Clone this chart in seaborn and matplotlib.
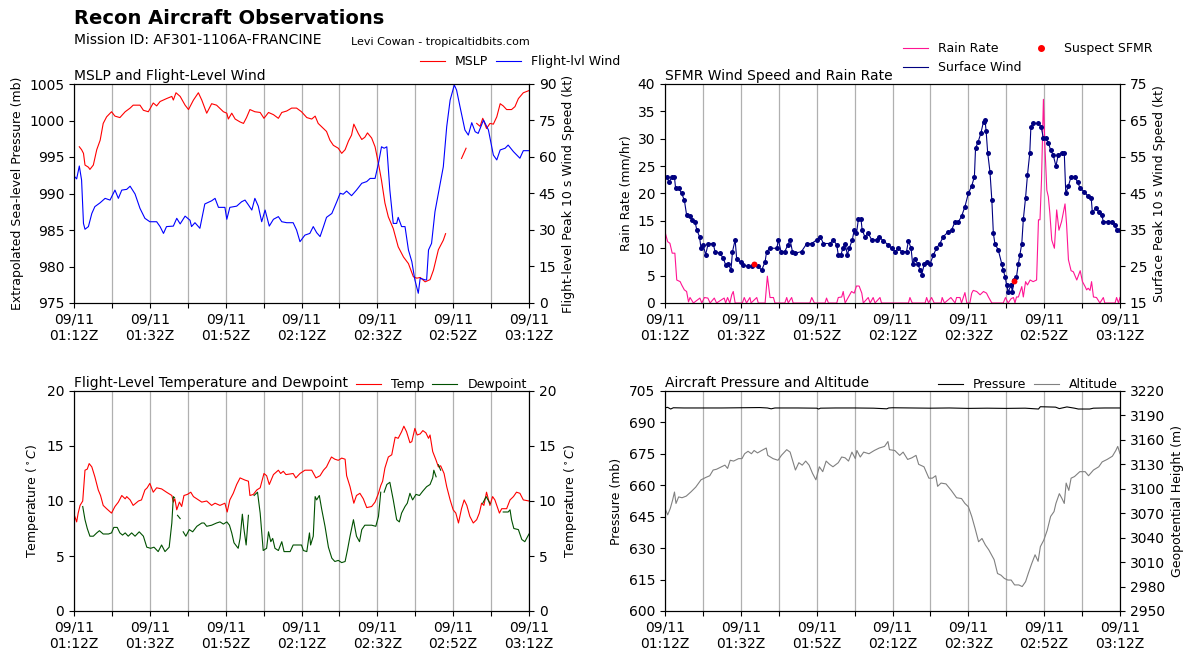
import numpy as np
import pandas as pd
import seaborn as sns
import matplotlib.pyplot as plt
from matplotlib.lines import Line2D

nan = np.nan
base = pd.Timestamp('2024-09-11 01:12')

# Flight-level wind (kt), minutes after 01:12Z
wind_min = [0.0, 0.7, 1.4, 2.0, 2.5, 2.9, 3.8, 4.7, 5.5, 6.9, 8.2, 9.5, 10.8, 11.7, 12.6, 13.9, 14.8, 16.1, 17.4, 18.7,
            20.0, 21.8, 22.7, 23.6, 24.4, 26.2, 27.1, 28.0, 29.3, 30.6, 31.0, 31.9, 33.2, 34.5, 36.3, 37.2, 38.1, 39.8, 40.3, 41.1,
            42.9, 44.2, 45.1, 46.0, 46.9, 47.7, 48.6, 49.5, 50.4, 51.5, 52.6, 53.9, 54.8, 56.1, 57.8, 58.7, 59.6, 60.9, 62.2, 63.1,
            64.0, 64.9, 65.8, 66.6, 68.0, 69.3, 70.2, 71.0, 71.9, 73.2, 74.5, 75.9, 77.2, 78.1, 79.4, 80.3, 81.1, 81.8, 82.5, 83.3,
            84.2, 85.1, 85.5, 86.4, 87.3, 88.2, 89.1, 89.9, 90.8, 91.3, 92.6, 93.0, 93.5, 94.3, 95.2, 96.1, 97.4, 98.3, 99.2, 100.3,
            100.9, 101.8, 103.1, 104.0, 104.9, 105.8, 106.6, 108.0, 109.3, 110.6, 111.5, 112.4, 113.7, 114.5, 115.9, 117.6, 118.5, 120.0]
wind_kt = [52.2, 51, 56.3, 50.5, 32.7, 30.3, 31.4, 36.8, 39.6, 41.2, 43, 42.3, 46.4, 43, 46.4, 46.7, 48, 44.8, 38.9, 34.8,
           33.4, 33.4, 31.4, 28.6, 31.4, 31.6, 34.8, 32.5, 35.7, 34, 31.4, 33, 30.7, 40.7, 42, 43, 39.3, 39.3, 34.4, 39.3,
           39.8, 41.6, 42.3, 40.3, 38.2, 43, 39.8, 33.4, 38.2, 31.6, 34.4, 35.5, 33.4, 33, 33, 30, 25.2, 27.9, 28.6, 31.4,
           28.9, 27.3, 31.4, 35.2, 36.8, 41.6, 45.1, 44.7, 46, 44.1, 46.4, 49.2, 49.9, 51.2, 51.2, 57.4, 64.2, 63.6, 64.2, 46.4,
           32.7, 32.7, 35.2, 31.4, 31.4, 21.8, 17, 9.5, 4, 10.2, 9.5, 9.5, 21.8, 24.5, 37.5, 45.1, 56, 72.5, 83.4, 89.6,
           87.5, 80.7, 71.1, 69, 74.1, 70.4, 69.7, 75.2, 71.1, 60.8, 58.8, 62.9, 63.6, 64.9, 62.2, 59.5, 62.6, 62.6]

# Extrapolated MSLP (mb)
mslp_min = [1.4, 2.0, 2.5, 2.9, 3.8, 4.2, 5.1, 6.0, 6.9, 7.7, 8.6, 9.9, 10.8, 12.1, 13.5, 14.8, 15.6, 17.4, 18.3, 19.6,
            20.9, 21.8, 22.7, 24.4, 25.8, 26.2, 26.9, 28.0, 29.3, 30.2, 31.5, 32.8, 33.7, 35.0, 36.3, 37.6, 39.4, 40.3, 40.7, 41.6,
            42.5, 43.8, 44.7, 45.5, 46.4, 47.7, 49.1, 50.1, 51.3, 52.6, 53.9, 54.8, 56.1, 57.4, 58.7, 60.0, 61.4, 62.7, 63.6, 64.4,
            65.8, 66.6, 67.5, 68.4, 69.7, 70.6, 71.5, 72.4, 73.2, 73.8, 75.0, 75.9, 76.7, 77.4, 78.5, 79.4, 80.3, 81.1, 82.0, 82.9,
            84.2, 85.5, 86.9, 88.2, 89.5, 90.4, 91.3, 92.6, 93.9, 94.8, 96.1, 97.4, 98.0, 98.5, 102.2, 103.4, 104.0, 106.2, 107.1, 107.8,
            108.8, 109.7, 110.6, 111.5, 112.4, 113.2, 114.1, 115.4, 116.3, 117.2, 118.5, 120.0]
mslp_mb = [996.4, 996.0, 995.5, 993.9, 993.6, 993.3, 993.9, 996.0, 997.3, 999.6, 1000.5, 1001.2, 1000.6, 1000.4, 1001.2, 1001.7, 1002.1, 1002.1, 1001.4, 1001.2,
           1002.4, 1002.0, 1002.6, 1003.0, 1003.3, 1002.8, 1003.8, 1003.3, 1002.1, 1001.5, 1002.8, 1003.8, 1002.8, 1001.0, 1002.3, 1002.1, 1001.2, 1001.0, 1000.2, 1001.0,
           1000.2, 999.8, 999.6, 1000.4, 1001.5, 1001.2, 1001.1, 1000.3, 1001.1, 1000.8, 1000.3, 1001.1, 1001.3, 1001.7, 1001.7, 1001.2, 1000.4, 1000.2, 1000.6, 999.6,
           998.9, 998.5, 997.3, 996.6, 996.2, 995.5, 996.0, 997.2, 998.0, 999.5, 998.2, 997.4, 997.7, 998.3, 997.6, 996.4, 994.1, 991.8, 988.7, 986.8,
           985.2, 982.7, 981.3, 980.4, 978.6, 978.4, 978.5, 977.9, 978.2, 979.5, 982.3, 983.6, 984.5, nan, 994.8, 996.2, nan, 999.6, 999.2, 1000.3,
           998.9, 999.6, 999.5, 1000.5, 1002.3, 1002.0, 1001.5, 1001.5, 1001.9, 1003.0, 1003.8, 1004.1]

# SFMR surface wind (kt)
sfc_min = [0.4, 1.1, 1.8, 2.5, 2.8, 3.7, 4.4, 5.1, 5.7, 6.6,
           7.2, 7.9, 8.4, 9.1, 9.5, 10.1, 10.7, 11.4, 12.7, 13.2,
           14.5, 15.4, 16.0, 16.7, 17.4, 17.8, 18.5, 18.9, 20.0, 20.7,
           22.0, 22.9, 23.6, 24.6, 25.5, 26.4, 26.8, 27.7, 29.5, 29.9,
           30.6, 31.6, 32.4, 33.0, 33.6, 34.3, 36.0, 37.4, 38.7, 40.0,
           40.9, 41.8, 43.5, 44.4, 45.3, 45.7, 46.4, 46.9, 47.5, 48.1,
           48.6, 49.4, 49.9, 50.5, 51.0, 51.7, 52.0, 52.7, 53.6, 54.5,
           55.8, 56.4, 57.6, 58.9, 59.8, 60.7, 61.5, 62.4, 63.7, 64.2,
           64.9, 65.3, 65.9, 66.6, 67.3, 67.7, 68.4, 69.0, 69.9, 70.8,
           71.6, 72.5, 73.4, 74.7, 75.6, 76.5, 77.4, 78.2, 79.1, 80.0,
           80.9, 81.6, 81.9, 82.6, 83.3, 84.0, 84.4, 84.7, 85.1, 85.7,
           86.2, 86.6, 87.0, 87.9, 88.8, 89.2, 89.7, 90.1, 90.5, 91.3,
           91.6, 92.1, 92.7, 93.2, 93.6, 94.1, 94.5, 95.1, 95.6, 96.2,
           96.5, 97.1, 98.5, 99.2, 99.8, 100.4, 101.1, 101.7, 102.4, 103.1,
           103.7, 104.6, 105.3, 105.7, 106.4, 107.1, 108.0, 108.8, 109.5, 110.6,
           111.5, 112.4, 112.7, 113.6, 114.5, 115.2, 115.6, 116.9, 118.0, 118.7,
           119.1, 120.0]
sfc_kt = [49.4, 48.2, 49.4, 49.4, 46.4, 46.4, 45.0, 43.2, 39.1, 38.7,
          37.7, 37.3, 35.0, 33.2, 30.0, 30.9, 28.2, 31.3, 31.3, 29.1,
          28.6, 27.2, 25.4, 25.8, 24.0, 29.1, 32.3, 27.1, 26.1, 25.4,
          25.0, 25.0, 25.8, 25.0, 24.0, 26.3, 29.1, 30.0, 30.0, 32.3,
          29.1, 29.1, 30.9, 32.3, 29.1, 28.6, 29.1, 31.3, 31.3, 32.3,
          33.2, 31.3, 31.3, 32.3, 30.9, 28.2, 28.2, 30.0, 31.3, 28.2,
          30.0, 32.3, 35.0, 34.1, 37.9, 37.9, 35.0, 33.2, 34.1, 32.3,
          32.3, 33.2, 32.0, 30.9, 30.0, 29.1, 30.0, 29.1, 29.1, 32.0,
          30.0, 25.8, 27.0, 25.8, 24.0, 22.8, 25.7, 26.1, 25.7, 28.2,
          30.0, 31.3, 33.2, 34.5, 35.0, 37.3, 37.3, 38.7, 41.4, 45.0,
          47.1, 49.6, 57.4, 59.2, 61.5, 64.7, 65.1, 62.0, 56.2, 51.0,
          43.2, 34.1, 31.3, 29.5, 25.8, 24.0, 22.2, 19.9, 18.1, 19.9,
          18.1, 21.3, 22.2, 25.8, 28.2, 31.3, 37.9, 43.9, 50.1, 56.0,
          63.3, 64.2, 64.2, 63.3, 60.1, 60.1, 58.9, 56.9, 55.5, 52.5,
          55.5, 56.2, 56.2, 45.0, 47.1, 49.6, 49.6, 48.2, 46.4, 45.5,
          44.3, 43.9, 39.9, 40.9, 39.9, 39.1, 37.3, 37.3, 37.3, 36.4,
          35.0, 35.0]
suspect_min = [23.6, 92.1]
suspect_kt = [25.8, 21.0]

# SFMR rain rate (mm/hr)
rain_min = [0.0, 0.7, 1.3, 1.9, 2.6, 3.1, 4.0, 4.4, 5.1, 5.7, 6.2, 6.6, 7.5, 9.2, 9.7, 10.4, 11.3, 11.9, 13.0, 13.6,
            15.6, 16.0, 16.5, 17.1, 17.6, 18.0, 18.5, 20.4, 20.9, 21.5, 22.4, 22.7, 24.2, 24.6, 26.4, 27.0, 27.7, 28.6, 29.0, 31.6,
            32.1, 32.5, 33.4, 33.8, 38.2, 38.7, 39.4, 42.2, 42.6, 43.1, 45.3, 45.7, 46.6, 47.0, 47.5, 48.4, 49.2, 49.9, 50.5, 51.2,
            51.9, 52.3, 53.6, 54.1, 54.9, 55.4, 56.7, 57.1, 64.2, 64.6, 65.2, 68.6, 69.0, 69.5, 70.3, 71.0, 72.8, 73.1, 73.7, 75.4,
            76.5, 76.9, 77.8, 78.2, 79.1, 79.6, 80.4, 80.9, 81.3, 82.2, 83.1, 84.0, 84.8, 85.3, 86.2, 89.2, 89.8, 90.5, 91.3, 91.9,
            92.3, 92.7, 93.2, 94.1, 94.5, 95.1, 95.6, 96.3, 97.1, 98.0, 98.5, 98.9, 99.3, 99.8, 100.2, 100.7, 101.1, 101.5, 102.0, 102.7,
            103.3, 103.9, 104.6, 105.5, 105.9, 106.4, 107.1, 107.7, 108.6, 109.5, 110.1, 110.8, 111.2, 111.6, 112.1, 112.5, 113.0, 113.8, 114.7, 115.6,
            116.0, 118.7, 119.1, 119.6, 120.0]
rain_mmhr = [13.0, 11.2, 10.9, 9.1, 9.1, 4.2, 3.9, 3.3, 2.4, 2.1, 0.2, 1.0, 0, 0.9, 0, 1.0, 0.9, 0, 0.9, 0,
             0.9, 0, 1.0, 0, 1.5, 2.1, 0, 0, 1.0, 0, 1.0, 0, 1.0, 0, 0, 4.9, 1.0, 1.0, 0, 0,
             1.0, 0, 1.0, 0, 0, 1.0, 0, 0, 0.9, 0, 0, 1.0, 1.1, 2.1, 0, 1.1, 2.1, 1.8, 3.1, 3.1,
             1.8, 0, 1.0, 0, 1.0, 0, 1.0, 0, 0, 1.0, 0, 0, 1.0, 0, 1.0, 0, 0, 1.0, 0, 1.0,
             0, 1.0, 1.0, 0, 1.9, 0, 0, 1.8, 2.3, 2.1, 1.5, 2.1, 1.8, 1.1, 0, 0, 1.0, 0, 0.8, 1.0,
             0, 1.1, 1.1, 3.0, 1.1, 3.9, 3.3, 4.2, 3.9, 4.2, 15.2, 15.2, 22.5, 37.2, 28.6, 20.6, 19.4, 16.4, 11.5, 10.0,
             17.0, 13.3, 14.9, 18.1, 14.5, 7.9, 5.9, 5.7, 4.2, 5.9, 3.9, 3.0, 2.4, 2.7, 2.3, 3.9, 1.1, 1.0, 0, 1.0,
             0, 0, 1.0, 0, 1.0]

# Flight-level temperature (C)
temp_min = [0.0, 0.7, 1.1, 1.6, 2.3, 2.9, 3.5, 4.0, 4.7, 5.5, 6.4, 7.0, 7.7, 8.6, 9.9, 10.8, 11.7, 12.6, 13.5, 13.9,
            14.8, 15.6, 17.0, 17.8, 18.7, 19.3, 20.0, 20.9, 21.8, 23.1, 24.4, 25.8, 26.2, 26.6, 27.1, 27.8, 28.4, 29.0, 29.9, 30.8,
            31.5, 32.4, 33.7, 35.0, 36.3, 37.2, 38.5, 39.8, 40.4, 41.1, 42.0, 42.9, 43.8, 45.1, 46.0, 46.4, 47.3, 48.2, 49.1, 50.1,
            50.8, 51.5, 52.6, 53.9, 54.5, 55.2, 55.9, 57.8, 58.5, 59.6, 60.9, 62.7, 63.8, 64.9, 65.8, 66.6, 67.3, 67.9, 68.8, 69.7,
            70.6, 71.5, 71.9, 72.8, 73.8, 74.5, 75.4, 76.3, 77.2, 78.5, 79.4, 80.3, 80.9, 81.4, 82.0, 82.9, 83.8, 84.7, 85.5, 86.4,
            87.0, 87.7, 88.6, 89.1, 89.9, 90.5, 91.3, 92.0, 92.8, 93.5, 93.9, 94.6, 95.5, 96.1, 96.7, 97.6, 98.3, 99.2, 100.0, 100.7,
            101.4, 102.2, 102.9, 103.6, 104.4, 105.3, 106.2, 106.9, 107.5, 108.1, 108.8, 109.7, 110.4, 111.0, 112.2, 112.8, 114.1, 115.0, 115.9, 116.7,
            117.6, 118.5, 120.0]
temp_c = [8.8, 8.1, 8.9, 9.6, 10.0, 12.8, 12.9, 13.4, 13.1, 12.2, 11.0, 10.5, 9.6, 9.3, 8.9, 9.5, 9.9, 10.5, 10.2, 10.4,
          10.1, 9.6, 10.0, 10.1, 11.0, 11.2, 11.6, 10.8, 11.2, 11.1, 10.8, 10.5, 9.9, 10.2, 9.2, 9.9, 9.5, 10.5, 10.6, 10.8,
          10.4, 10.2, 9.9, 10.0, 9.6, 9.8, 9.6, 9.8, 9.0, 10.1, 10.7, 11.5, 12.1, 11.9, 11.8, 10.5, 10.6, 11.0, 11.2, 12.5,
          12.3, 11.5, 12.4, 12.8, 12.5, 12.7, 12.4, 12.5, 12.1, 12.5, 12.8, 12.8, 12.1, 12.3, 12.8, 13.1, 13.6, 14.0, 13.8, 13.7,
          13.9, 13.8, 12.3, 11.3, 9.8, 10.5, 10.7, 10.2, 9.4, 9.5, 9.9, 10.7, 11.4, 11.8, 13.0, 14.0, 14.2, 15.8, 15.7, 16.3,
          16.8, 16.3, 15.3, 15.4, 16.6, 16.0, 16.1, 16.4, 16.2, 15.7, 16.0, 14.5, 13.7, 13.1, 13.2, 12.5, 11.3, 10.1, 9.2, 8.9,
          8.0, 9.3, 10.1, 9.6, 8.6, 8.0, 8.3, 8.9, 9.8, 9.6, 10.8, 9.6, 10.4, 10.1, 8.9, 9.3, 9.3, 10.1, 10.4, 10.8,
          10.7, 10.1, 10.0]

# Flight-level dewpoint (C)
dewp_min = [2.3, 2.9, 3.5, 4.2, 5.1, 6.0, 6.7, 7.7, 9.1, 9.9, 10.5, 11.4, 12.1, 12.8, 13.5, 14.3, 15.2, 16.1, 17.2, 18.3,
            19.2, 20.2, 21.1, 22.2, 23.1, 24.0, 25.1, 25.8, 26.2, 26.5, 26.9, 27.3, 28.0, 28.6, 28.8, 29.5, 30.4, 31.3, 32.4, 33.7,
            34.3, 35.0, 36.3, 37.6, 38.5, 39.4, 40.3, 41.0, 41.6, 42.2, 43.3, 43.8, 44.4, 44.8, 45.4, 46.0, 46.7, 47.5, 48.4, 49.1,
            49.9, 50.8, 51.3, 51.9, 52.4, 53.0, 53.9, 54.8, 55.4, 57.0, 57.8, 59.2, 60.0, 60.5, 61.4, 62.1, 62.4, 63.1, 63.6, 64.0,
            64.7, 65.3, 66.2, 67.1, 68.0, 68.8, 69.7, 70.6, 71.5, 72.1, 72.8, 73.7, 74.5, 75.3, 75.9, 76.7, 78.5, 79.6, 80.3, 80.9,
            81.3, 81.8, 82.5, 83.3, 84.2, 85.1, 85.8, 86.4, 87.3, 87.9, 88.6, 89.3, 90.2, 91.1, 92.0, 93.0, 93.9, 94.6, 94.9, 95.5,
            95.8, 96.1, 96.7, 97.5, 107.8, 108.7, 109.7, 110.5, 113.2, 114.5, 115.0, 115.4, 116.0, 117.2, 118.1, 118.9, 120.0]
dewp_c = [9.5, 8.3, 7.5, 6.8, 6.8, 7.1, 7.3, 7.0, 7.0, 7.1, 7.6, 7.6, 7.1, 6.9, 7.1, 6.8, 7.1, 6.8, 7.2, 6.8,
          5.8, 5.7, 5.8, 5.4, 6.0, 5.4, 5.8, 8.0, 10.4, 10.3, nan, 8.7, 8.4, nan, 7.2, 6.8, 7.4, 7.2, 7.7, 8.0,
          8.0, 7.7, 7.8, 8.0, 8.1, 7.9, 8.1, 7.8, 7.1, 6.2, 5.7, 6.6, 8.8, 7.5, 6.0, 8.7, nan, 10.5, 10.8, 8.9,
          5.5, 5.7, 7.2, 6.3, 6.6, 5.7, 5.5, 6.3, 5.4, 5.4, 6.0, 6.0, 6.0, 5.5, 5.4, 7.1, 6.0, 6.8, 10.4, 10.1,
          10.5, 9.3, 7.7, 5.8, 4.8, 4.5, 4.6, 4.4, 4.5, 5.5, 6.8, 8.3, 6.8, 6.3, 7.4, 7.8, 7.8, 7.7, 8.6, 10.8,
          nan, 10.8, 11.5, 11.7, 10.1, 8.3, 8.1, 8.9, 9.5, 9.8, 10.7, 10.1, 10.6, 10.5, 10.9, 11.3, 11.5, 12.1, 12.8, 12.2,
          nan, 13.3, 12.8, nan, 9.8, 10.4, 9.8, nan, 9.0, 9.0, 9.2, 8.3, 7.5, 7.4, 6.5, 6.3, 7.0]

# Aircraft static pressure (mb)
pres_min = [0, 0.7, 1.5, 2.2, 5, 10, 15, 20, 25, 27, 28, 29, 35, 40, 40.5, 41, 45, 50, 55, 58.5,
            59, 60, 65, 70, 75, 80, 85, 90, 95, 98.5, 99, 101, 103, 104, 105, 106, 108, 109, 112, 113,
            116, 120]
pres_mb = [697.0, 697.2, 696.4, 697.0, 696.9, 696.9, 696.9, 697.0, 697.1, 696.9, 696.5, 696.9, 696.9, 696.8, 696.4, 696.8, 696.9, 696.9, 696.8, 696.5,
           696.9, 697.0, 696.9, 696.8, 696.9, 696.7, 696.8, 696.7, 696.8, 696.4, 697.5, 697.4, 697.3, 696.6, 697.0, 697.4, 696.8, 696.4, 696.4, 696.8,
           696.9, 696.9]

# Geopotential height (m)
alt_min = [0, 0.7, 1.4, 2.0, 2.5, 2.9, 3.6, 4.5, 5.6, 6.8, 8.1, 9.5, 10.8, 11.8, 12.7, 13.6, 14.9, 15.8, 16.5, 17.2,
           18.1, 19.4, 20.3, 21.0, 21.9, 22.8, 23.5, 24.4, 25.5, 26.7, 27.1, 28.5, 29.8, 30.7, 32.1, 33.0, 34.4, 35.3, 36.2, 37.1,
           38.0, 38.9, 39.8, 40.7, 41.6, 42.5, 43.4, 44.3, 45.7, 46.6, 47.5, 48.4, 49.3, 50.2, 50.6, 51.5, 52.4, 53.8, 55.2, 56.5,
           57.9, 58.8, 59.2, 60.6, 61.9, 62.8, 64.0, 65.1, 66.2, 66.9, 68.3, 69.6, 70.5, 71.4, 71.9, 72.8, 74.1, 75.5, 76.9, 78.2,
           79.1, 80.0, 80.9, 81.8, 82.7, 83.6, 84.5, 85.4, 86.8, 87.7, 88.6, 89.5, 90.4, 91.3, 92.2, 93.3, 94.2, 95.1, 95.8, 96.7,
           97.6, 98.4, 99.0, 99.9, 100.8, 101.7, 102.6, 103.1, 104.0, 104.7, 105.3, 105.8, 106.5, 107.1, 108.0, 109.4, 110.8, 111.7, 113.0, 114.4,
           115.3, 116.6, 118.0, 118.9, 119.4, 120.0]
alt_m = [3076, 3068, 3076, 3086, 3096, 3082, 3090, 3089, 3091, 3096, 3102, 3111, 3114, 3116, 3123, 3124, 3127, 3129, 3125, 3135,
         3134, 3137, 3137, 3143, 3146, 3143, 3147, 3144, 3147, 3150, 3141, 3137, 3135, 3141, 3148, 3145, 3123, 3132, 3129, 3134,
         3129, 3119, 3111, 3127, 3121, 3134, 3130, 3127, 3132, 3139, 3138, 3134, 3145, 3137, 3147, 3139, 3145, 3143, 3147, 3150,
         3152, 3158, 3148, 3147, 3141, 3145, 3136, 3138, 3141, 3130, 3127, 3113, 3113, 3116, 3103, 3107, 3106, 3098, 3089, 3088,
         3082, 3078, 3066, 3051, 3035, 3039, 3031, 3025, 3013, 2996, 2994, 2990, 2988, 2988, 2982, 2982, 2980, 2986, 2996, 3008,
         3019, 3011, 3029, 3037, 3049, 3066, 3072, 3082, 3094, 3088, 3082, 3107, 3098, 3113, 3115, 3121, 3121, 3116, 3123, 3127,
         3133, 3136, 3140, 3147, 3152, 3143]


def frame(minutes, values):
    df = pd.DataFrame({'time': base + pd.to_timedelta(minutes, unit='min'), 'value': values})
    df['seg'] = df['value'].isna().cumsum()
    return df.dropna()


def line(ax, minutes, values, color, lw=0.8, **kw):
    sns.lineplot(data=frame(minutes, values), x='time', y='value', units='seg', estimator=None,
                 color=color, lw=lw, ax=ax, legend=False, **kw)


def time_axis(ax):
    ticks = [base + pd.Timedelta(minutes=10 * k) for k in range(13)]
    ax.set_xlim(ticks[0], ticks[-1])
    ax.set_xticks(ticks)
    ax.set_xticklabels([t.strftime('%m/%d\n%H:%MZ') if k % 2 == 0 else '' for k, t in enumerate(ticks)], fontsize=10)
    ax.grid(axis='x', color='#b0b0b0', lw=0.9)
    ax.set_xlabel('')


fig = plt.figure(figsize=(11.93, 6.59), dpi=100)
W, H = 1193, 659


def rect(x0, x1, y0, y1):
    return [x0 / W, 1 - y1 / H, (x1 - x0) / W, (y1 - y0) / H]


fig.text(74 / W, 1 - 18 / H, 'Recon Aircraft Observations', fontsize=14, fontweight='bold', va='center')
fig.text(74 / W, 1 - 40 / H, 'Mission ID: AF301-1106A-FRANCINE', fontsize=10, va='center')
fig.text(351 / W, 1 - 42 / H, 'Levi Cowan - tropicaltidbits.com', fontsize=8, va='center')

# Panel 1: MSLP and flight-level wind
ax1 = fig.add_axes(rect(74, 529, 84, 303))
ax1b = ax1.twinx()
line(ax1, mslp_min, mslp_mb, 'red')
line(ax1b, wind_min, wind_kt, 'blue')
ax1.set_ylim(975, 1005)
ax1.set_yticks(range(975, 1006, 5))
ax1b.set_ylim(0, 90)
ax1b.set_yticks(range(0, 91, 15))
ax1.set_ylabel('Extrapolated Sea-level Pressure (mb)', fontsize=9)
ax1b.set_ylabel('Flight-level Peak 10 s Wind Speed (kt)', fontsize=9)
ax1.set_title('MSLP and Flight-Level Wind', loc='left', fontsize=10, pad=3)
time_axis(ax1)
ax1b.legend(handles=[Line2D([], [], color='red', lw=0.8), Line2D([], [], color='blue', lw=0.8)],
            labels=['MSLP', 'Flight-lvl Wind'], ncol=2, frameon=False, fontsize=9,
            loc='lower right', bbox_to_anchor=(1.2, 1.072), borderaxespad=0, borderpad=0, columnspacing=0.6)

# Panel 2: SFMR wind and rain rate
ax2 = fig.add_axes(rect(665, 1120, 84, 303))
ax2b = ax2.twinx()
line(ax2, rain_min, rain_mmhr, '#ff1493')
line(ax2b, sfc_min, sfc_kt, 'navy', marker='o', markersize=3.6, markeredgewidth=0)
sns.scatterplot(x=base + pd.to_timedelta(suspect_min, unit='min'), y=suspect_kt, color='red', s=18,
                linewidth=0, ax=ax2b, zorder=5)
ax2.set_ylim(0, 40)
ax2.set_yticks(range(0, 41, 5))
ax2b.set_ylim(15, 75)
ax2b.set_yticks(range(15, 76, 10))
ax2.set_ylabel('Rain Rate (mm/hr)', fontsize=9)
ax2b.set_ylabel('Surface Peak 10 s Wind Speed (kt)', fontsize=9)
ax2.set_title('SFMR Wind Speed and Rain Rate', loc='left', fontsize=10, pad=3)
time_axis(ax2)
ax2b.legend(handles=[Line2D([], [], color='#ff1493', lw=0.8), Line2D([], [], color='navy', lw=0.8),
                     Line2D([], [], color='red', marker='o', ls='', markersize=4)],
            labels=['Rain Rate', 'Surface Wind', 'Suspect SFMR'], ncol=2, frameon=False, fontsize=9,
            loc='lower right', bbox_to_anchor=(1.071, 1.045), borderaxespad=0, borderpad=0, columnspacing=0.6)

# Panel 3: temperature and dewpoint
ax3 = fig.add_axes(rect(74, 529, 391, 611))
ax3b = ax3.twinx()
line(ax3, temp_min, temp_c, 'red')
line(ax3, dewp_min, dewp_c, '#005000')
for a in (ax3, ax3b):
    a.set_ylim(0, 20)
    a.set_yticks(range(0, 21, 5))
    a.set_ylabel('Temperature ($^\\circ C$)', fontsize=9)
ax3.set_title('Flight-Level Temperature and Dewpoint', loc='left', fontsize=10, pad=3)
time_axis(ax3)
ax3b.legend(handles=[Line2D([], [], color='red', lw=0.8), Line2D([], [], color='#005000', lw=0.8)],
            labels=['Temp', 'Dewpoint'], ncol=2, frameon=False, fontsize=9,
            loc='lower right', bbox_to_anchor=(0.995, 1.0), borderaxespad=0, borderpad=0, columnspacing=0.6)

# Panel 4: aircraft pressure and altitude
ax4 = fig.add_axes(rect(665, 1120, 391, 611))
ax4b = ax4.twinx()
line(ax4, pres_min, pres_mb, 'black')
line(ax4b, alt_min, alt_m, 'gray')
ax4.set_ylim(600, 705)
ax4.set_yticks(range(600, 706, 15))
ax4b.set_ylim(2950, 3220)
ax4b.set_yticks(range(2950, 3221, 30))
ax4.set_ylabel('Pressure (mb)', fontsize=9)
ax4b.set_ylabel('Geopotential Height (m)', fontsize=9)
ax4.set_title('Aircraft Pressure and Altitude', loc='left', fontsize=10, pad=3)
time_axis(ax4)
ax4b.legend(handles=[Line2D([], [], color='black', lw=0.8), Line2D([], [], color='gray', lw=0.8)],
            labels=['Pressure', 'Altitude'], ncol=2, frameon=False, fontsize=9,
            loc='lower right', bbox_to_anchor=(0.995, 1.0), borderaxespad=0, borderpad=0, columnspacing=0.6)

for a in (ax1, ax1b, ax2, ax2b, ax3, ax3b, ax4, ax4b):
    a.tick_params(axis='y', labelsize=10)
    a.set_xlabel('')

fig.savefig('out.png', dpi=100)
